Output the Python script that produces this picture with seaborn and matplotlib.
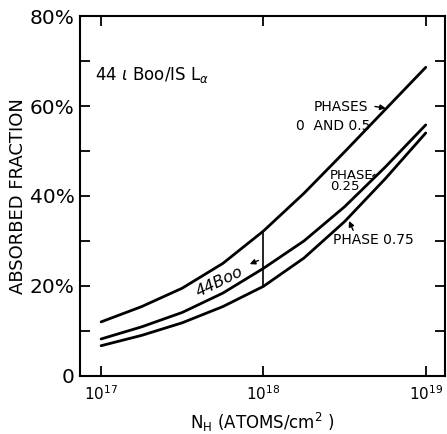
import numpy as np
import pandas as pd
import matplotlib
matplotlib.use("Agg")
import matplotlib.pyplot as plt
import seaborn as sns

# column density (log10 N_H) and absorbed fraction (%)
log_nh = [17.0, 17.25, 17.5, 17.75, 18.0, 18.25, 18.5, 18.75, 19.0]
phase_0_05 = [12.0, 15.4, 19.5, 25.0, 32.2, 40.6, 49.8, 59.2, 68.6]
phase_025 = [8.2, 10.9, 14.1, 18.4, 23.9, 30.0, 37.6, 46.4, 55.8]
phase_075 = [6.7, 9.0, 11.8, 15.4, 19.9, 26.2, 34.3, 43.8, 54.0]

y_ticks = [0, 20, 40, 60, 80]
y_labels = ["0", "20%", "40%", "60%", "80%"]

nh = [10 ** v for v in log_nh]
df = pd.concat([
    pd.DataFrame({"NH": nh, "frac": phase_0_05, "phase": "0 and 0.5"}),
    pd.DataFrame({"NH": nh, "frac": phase_025, "phase": "0.25"}),
    pd.DataFrame({"NH": nh, "frac": phase_075, "phase": "0.75"}),
])

sns.set_style("ticks")
plt.rcParams["font.family"] = ["DejaVu Sans"]
plt.rcParams["text.color"] = "black"
plt.rcParams["axes.labelcolor"] = "black"
plt.rcParams["xtick.color"] = "black"
plt.rcParams["ytick.color"] = "black"

fig = plt.figure(figsize=(4.47, 4.34), dpi=100)
ax = fig.add_axes([0.179, 0.134, 0.817, 0.829])

sns.lineplot(data=df, x="NH", y="frac", hue="phase",
             palette=["black", "black", "black"], linewidth=2.0,
             legend=False, ax=ax)

# 44 Boo marker at 10^18 between lowest and highest curve
i18 = log_nh.index(18.0)
ax.vlines(nh[i18], phase_075[i18], phase_0_05[i18], color="black", lw=1.2)

ax.set_xscale("log")
ax.set_xlim(10 ** 16.87, 10 ** 19.12)
ax.set_ylim(0, 80)
ax.set_xticks([1e17, 1e18, 1e19])
ax.xaxis.set_minor_locator(matplotlib.ticker.NullLocator())
ax.set_yticks(y_ticks)
ax.set_yticklabels(y_labels)
ax.set_yticks([10, 30, 50, 70], minor=True)

ax.tick_params(which="both", direction="in", top=True, right=True,
               width=1.3, length=7, color="black")
ax.tick_params(axis="y", labelsize=14.5, pad=4)
ax.tick_params(axis="x", labelsize=11, pad=6)
for s in ax.spines.values():
    s.set_linewidth(1.5)
    s.set_color("black")

ax.set_ylabel("ABSORBED FRACTION", fontsize=13, labelpad=2)
ax.set_xlabel(r"N$_{\rm H}$ (ATOMS/cm$^2$ )", fontsize=12, labelpad=6)

ax.text(10 ** 16.96, 67, r"44 $\iota$ Boo/IS L$_\alpha$", fontsize=12,
        ha="left", va="center")

ax.text(10 ** 18.31, 59.8, "PHASES", fontsize=10, ha="left", va="center")
ax.text(10 ** 18.20, 55.6, "0  AND 0.5", fontsize=10, ha="left", va="center")
ax.annotate("", xy=(10 ** 18.77, 59.4), xytext=(10 ** 18.67, 60.0),
            arrowprops=dict(arrowstyle="-|>", color="black", lw=1, mutation_scale=8))

ax.text(10 ** 18.41, 43.4, "PHASE\n0.25", fontsize=9.5, ha="left", va="center",
        linespacing=0.8)
ax.annotate("", xy=(10 ** 18.70, 45.2), xytext=(10 ** 18.66, 44.0),
            arrowprops=dict(arrowstyle="-", color="black", lw=1))

ax.text(10 ** 18.43, 30.2, "PHASE 0.75", fontsize=10, ha="left", va="center")
ax.annotate("", xy=(10 ** 18.52, 35.0), xytext=(10 ** 18.56, 31.8),
            arrowprops=dict(arrowstyle="-|>", color="black", lw=1, mutation_scale=8))

ax.text(10 ** 17.73, 20.8, "44Boo", fontsize=11.5, style="italic",
        ha="center", va="center", rotation=26)
ax.annotate("", xy=(10 ** 17.90, 24.6), xytext=(10 ** 17.985, 25.9),
            arrowprops=dict(arrowstyle="-|>", color="black", lw=1, mutation_scale=8))

fig.savefig("out.png", dpi=100)
